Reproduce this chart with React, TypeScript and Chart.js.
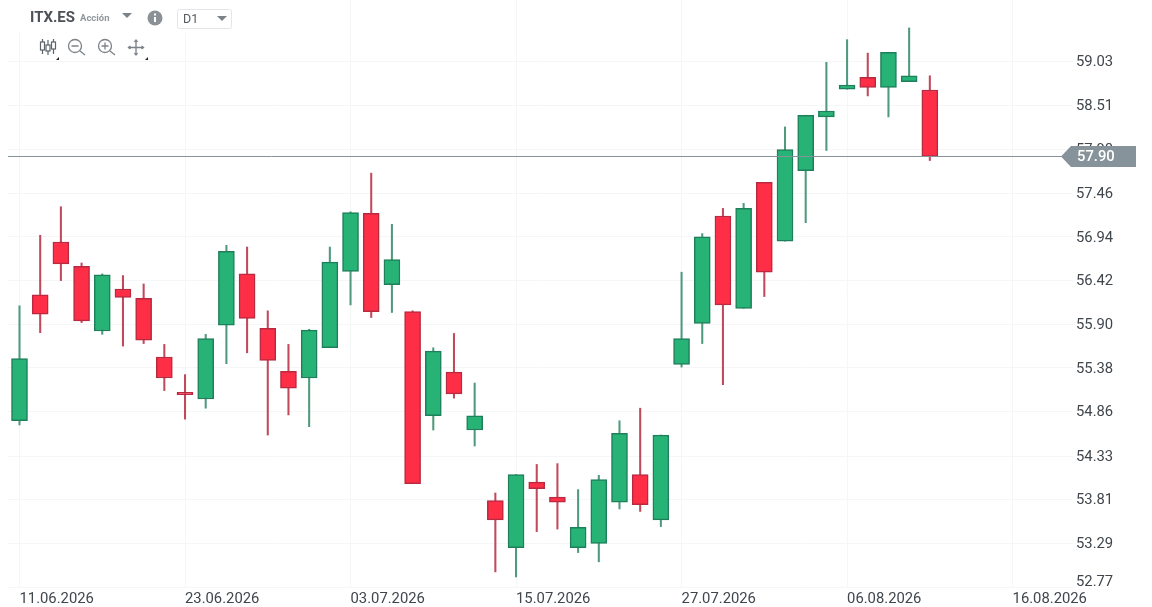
import React, { useEffect, useRef } from "react";
import { Chart, registerables } from "chart.js";

Chart.register(...registerables);

const opens = [54.75,56.25,56.88,56.59,55.82,56.32,56.21,55.51,55.09,55.01,55.89,56.50,55.85,55.34,55.26,55.62,56.53,57.22,56.37,56.05,54.81,55.33,54.64,53.80,53.24,54.02,53.84,53.24,53.29,53.78,54.11,53.57,55.42,55.91,57.19,56.09,57.59,56.89,57.73,58.37,58.70,58.84,58.72,58.79,58.69];
const closes = [55.49,56.02,56.62,55.94,56.49,56.22,55.71,55.26,55.06,55.73,56.77,55.97,55.47,55.14,55.83,56.64,57.23,56.05,56.67,54.00,55.58,55.07,54.81,53.57,54.11,53.94,53.78,53.48,54.05,54.60,53.75,54.58,55.73,56.94,56.13,57.28,56.52,57.98,58.39,58.44,58.75,58.72,59.14,58.86,57.90];
const highs = [56.12,56.96,57.30,56.63,56.50,56.48,56.38,55.66,55.30,55.78,56.84,56.82,56.06,55.66,55.84,56.82,57.24,57.70,57.09,56.06,55.62,55.79,55.20,53.89,54.11,54.23,54.24,53.93,54.10,54.75,54.90,54.58,56.52,56.98,57.28,57.34,57.59,58.25,58.39,59.02,59.29,59.13,59.14,59.43,58.86];
const lows = [54.70,55.80,56.42,55.92,55.78,55.64,55.67,55.11,54.77,54.90,55.43,55.56,54.58,54.82,54.68,55.62,56.13,55.98,56.04,54.00,54.64,55.02,54.45,52.95,52.89,53.43,53.46,53.18,53.07,53.70,53.67,53.49,55.39,55.67,55.18,56.09,56.23,56.89,57.11,57.97,58.70,58.62,58.37,58.79,57.85];
const priceTicks = [59.03,58.51,57.98,57.46,56.94,56.42,55.90,55.38,54.86,54.33,53.81,53.29,52.77];
const dateTicks = ["11.06.2026","23.06.2026","03.07.2026","15.07.2026","27.07.2026","06.08.2026","16.08.2026"];
const ticker = "ITX.ES";
const assetType = "Acción";
const timeframe = "D1";

const DATE_EVERY = 8;
const GREEN = "#27b376";
const GREEN_EDGE = "#1f7f5b";
const GREEN_WICK = "#4f9a7c";
const RED = "#ff2e47";
const RED_EDGE = "#b92a40";
const RED_WICK = "#c04a5c";
const GRID = "#f4f6f8";
const TEXT = "#40464c";
const TAG = "#87939a";
const FONT = "Roboto";

const isUp = (i: number) => closes[i] >= opens[i];

const priceTagPlugin = {
  id: "priceTag",
  beforeDraw(chart: any) {
    const y = chart.scales.y;
    const items = y.getLabelItems();
    const bottom = String(priceTicks[priceTicks.length - 1].toFixed(2));
    items.forEach((it: any) => {
      if (it.moved) return;
      it.options.translation[1] += it.label === bottom ? -5 : 1;
      it.moved = true;
    });
  },
  afterDraw(chart: any) {
    const { ctx, chartArea } = chart;
    const last = closes[closes.length - 1];
    const py = Math.round(chart.scales.y.getPixelForValue(last)) + 0.5;
    ctx.save();
    ctx.strokeStyle = TAG;
    ctx.lineWidth = 1;
    ctx.beginPath();
    ctx.moveTo(chartArea.left, py);
    ctx.lineTo(1062, py);
    ctx.stroke();
    ctx.fillStyle = TAG;
    ctx.beginPath();
    ctx.moveTo(1061, py);
    ctx.lineTo(1071, py - 10.5);
    ctx.lineTo(1136, py - 10.5);
    ctx.lineTo(1136, py + 10.5);
    ctx.lineTo(1071, py + 10.5);
    ctx.closePath();
    ctx.fill();
    ctx.fillStyle = "#ffffff";
    ctx.font = `500 14.8px ${FONT}`;
    ctx.textAlign = "left";
    ctx.textBaseline = "middle";
    ctx.fillText(last.toFixed(2), 1077, py + 1);
    ctx.restore();
  },
};

const icon = { stroke: "#7b8288", fill: "none", strokeWidth: 1.3 };

export default function App() {
  const ref = useRef<HTMLCanvasElement>(null);
  useEffect(() => {
    const idx = opens.map((_, i) => i);
    const chart = new Chart(ref.current as HTMLCanvasElement, {
      type: "bar",
      data: {
        datasets: [
          {
            label: "Cuerpo",
            order: 1,
            grouped: false,
            barThickness: 16,
            borderSkipped: false,
            borderWidth: 1.5,
            data: idx.map((i) => ({ x: i, y: [opens[i], closes[i]] })),
            backgroundColor: idx.map((i) => (isUp(i) ? GREEN : RED)),
            borderColor: idx.map((i) => (isUp(i) ? GREEN_EDGE : RED_EDGE)),
          },
          {
            label: "Mecha",
            order: 2,
            grouped: false,
            barThickness: 1.4,
            borderWidth: 0,
            data: idx.map((i) => ({ x: i, y: [lows[i], highs[i]] })),
            backgroundColor: idx.map((i) => (isUp(i) ? GREEN_WICK : RED_WICK)),
          },
        ] as any,
      },
      options: {
        responsive: false,
        animation: false,
        layout: { padding: { left: 8, top: 0, right: 0, bottom: 0 } },
        plugins: { legend: { display: false }, tooltip: { enabled: false } },
        scales: {
          x: {
            type: "linear",
            offset: false,
            min: -0.556,
            max: 50.92,
            grid: { color: GRID, drawTicks: false, lineWidth: 1, offset: false },
            border: { display: false },
            afterBuildTicks(scale: any) {
              scale.ticks = dateTicks.map((_, i) => ({ value: i * DATE_EVERY }));
            },
            afterFit(scale: any) {
              scale.height = 20;
              scale.paddingLeft = 0;
              scale.paddingRight = 0;
            },
            ticks: {
              autoSkip: false,
              maxRotation: 0,
              minRotation: 0,
              align: "start",
              padding: 3,
              color: TEXT,
              font: { family: FONT, size: 14.8 },
              callback: (v: any) => dateTicks[Math.round(Number(v) / DATE_EVERY)] ?? "",
            },
          },
          y: {
            position: "right",
            min: 52.77,
            max: 59.7626,
            grid: { color: GRID, drawTicks: false, lineWidth: 1 },
            border: { display: false },
            afterBuildTicks(scale: any) {
              scale.ticks = priceTicks.map((value) => ({ value }));
            },
            afterFit(scale: any) {
              scale.width = 79;
              scale.paddingTop = 0;
              scale.paddingBottom = 0;
            },
            ticks: {
              autoSkip: false,
              padding: 3,
              color: TEXT,
              font: { family: FONT, size: 14.8 },
              callback: (v: any) => Number(v).toFixed(2),
            },
          },
        },
      } as any,
      plugins: [priceTagPlugin as any],
    });
    return () => chart.destroy();
  }, []);

  return (
    <div style={{ position: "absolute", left: 0, top: 0, width: 1152, height: 607, overflow: "hidden", background: "#fff", fontFamily: FONT }}>
      <canvas ref={ref} width={1152} height={607} style={{ display: "block" }} />
      <div style={{ position: "absolute", left: 0, top: 0, width: 240, height: 33, background: "#fff" }} />
      <div style={{ position: "absolute", left: 20, top: 33, width: 132, height: 27, background: "#fff" }} />
      <div style={{ position: "absolute", left: 30, top: 7, fontSize: 15, fontWeight: 700, color: "#4b5157", lineHeight: "20px" }}>{ticker}</div>
      <div style={{ position: "absolute", left: 80, top: 10, fontSize: 9.5, fontWeight: 700, color: "#8f969c", lineHeight: "15px" }}>{assetType}</div>
      <svg style={{ position: "absolute", left: 0, top: 0 }} width={240} height={62}>
        <path d="M122 13 L132 13 L127 18 Z" fill="#7b8288" />
        <circle cx={155} cy={18} r={7.5} fill="#8b9196" />
        <rect x={154} y={17} width={2} height={5} fill="#fff" />
        <rect x={154} y={13.5} width={2} height={2} fill="#fff" />
        <rect x={177.5} y={9.5} width={54} height={19} rx={2} fill="#fff" stroke="#e3e5e8" />
        <path d="M217 16 L227 16 L222 21 Z" fill="#7b8288" />
        {/* candles */}
        <g stroke="#5c6268" fill="none" strokeWidth={1.2}>
          <path d="M42.5 39 V54 M48 40 V55 M53.5 39 V54" />
          <rect x={40.5} y={42} width={4} height={8} fill="#fff" />
          <rect x={46} y={45} width={4} height={6} fill="#fff" />
          <rect x={51.5} y={42} width={4} height={7} fill="#fff" />
        </g>
        {/* zoom out */}
        <g {...icon}>
          <circle cx={75} cy={46} r={6.5} />
          <path d="M71.5 46 H78.5 M80 51 L85 55" />
        </g>
        {/* zoom in */}
        <g {...icon}>
          <circle cx={105} cy={46} r={6.5} />
          <path d="M101.5 46 H108.5 M105 42.5 V49.5 M110 51 L115 55" />
        </g>
        {/* move */}
        <g {...icon}>
          <path d="M136 40 V55 M128.5 47.5 H143.5" />
          <path d="M134.5 42 L136 40 L137.5 42 M134.5 53 L136 55 L137.5 53 M130.5 46 L128.5 47.5 L130.5 49 M141.5 46 L143.5 47.5 L141.5 49" />
        </g>
        <path d="M59 57 V60 H56 Z" fill="#222" />
        <path d="M148 57 V60 H145 Z" fill="#222" />
      </svg>
      <div style={{ position: "absolute", left: 183, top: 11, fontSize: 12.5, color: "#555b61", lineHeight: "16px" }}>{timeframe}</div>
    </div>
  );
}
